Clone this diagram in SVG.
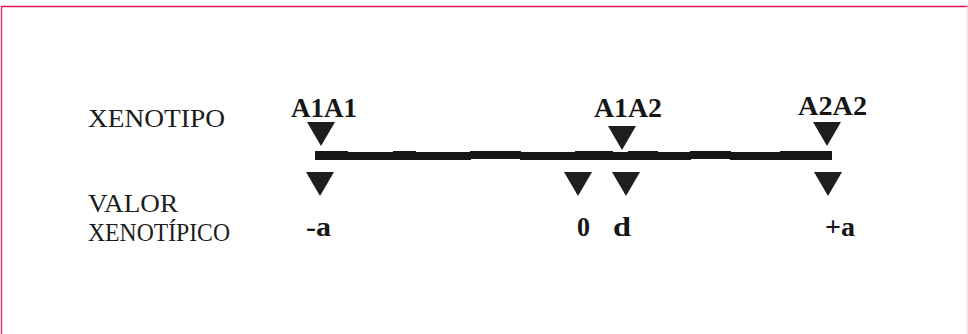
<svg xmlns="http://www.w3.org/2000/svg" width="968" height="334" viewBox="0 0 968 334">
  <style>
    .lbl { font-family: "Liberation Serif", "DejaVu Serif", serif; font-size: 26px; fill: #1c1c1c; }
    .gen { font-family: "Liberation Serif", "DejaVu Serif", serif; font-size: 27px; font-weight: bold; fill: #161616; }
    .val { font-family: "Liberation Serif", "DejaVu Serif", serif; font-size: 27px; font-weight: bold; fill: #161616; }
    .tri { fill: #1e1e1e; }
    .seg { fill: #161616; }
  </style>
  <defs>
    <!-- downward pointing marker triangle, origin at its apex centre-top -->
    <polygon id="down" points="-14,0 14,0 0,24"/>
  </defs>

  <rect x="0" y="0" width="968" height="334" fill="#ffffff"/>
  <!-- frame -->
  <line x1="1" y1="6.5" x2="968" y2="6.5" stroke="#e2124f" stroke-width="1.6"/>
  <line x1="1.5" y1="6" x2="1.5" y2="334" stroke="#d8336a" stroke-width="1.4"/>
  <line x1="967" y1="6" x2="967" y2="334" stroke="#f3cfdc" stroke-width="1"/>

  <!-- row labels -->
  <g id="label-xenotipo">
    <text class="lbl" x="88" y="127" textLength="137" lengthAdjust="spacingAndGlyphs">XENOTIPO</text>
  </g>
  <g id="label-valor">
    <text class="lbl" x="88" y="212" textLength="90" lengthAdjust="spacingAndGlyphs">VALOR</text>
    <text class="lbl" x="88" y="241" font-size="25" textLength="142" lengthAdjust="spacingAndGlyphs">XENOTÍPICO</text>
  </g>

  <!-- scale bar drawn as slightly offset strokes -->
  <g id="connectors">
    <rect class="seg" x="315" y="151" width="33" height="9"/>
    <rect class="seg" x="347" y="152" width="47" height="8"/>
    <rect class="seg" x="393" y="151" width="23" height="9"/>
    <rect class="seg" x="415" y="152" width="56" height="8"/>
    <rect class="seg" x="470" y="151" width="51" height="8"/>
    <rect class="seg" x="520" y="152" width="56" height="8"/>
    <rect class="seg" x="575" y="151" width="38" height="9"/>
    <rect class="seg" x="612" y="152" width="17" height="8"/>
    <rect class="seg" x="628" y="151" width="30" height="9"/>
    <rect class="seg" x="657" y="152" width="34" height="8"/>
    <rect class="seg" x="690" y="151" width="41" height="8"/>
    <rect class="seg" x="730" y="152" width="51" height="8"/>
    <rect class="seg" x="780" y="151" width="52" height="9"/>
  </g>

  <!-- genotypes -->
  <g id="node-a1a1">
    <text class="gen" x="291" y="117" textLength="66" lengthAdjust="spacingAndGlyphs">A1A1</text>
    <use href="#down" class="tri" x="321" y="122"/>
  </g>
  <g id="node-a1a2">
    <text class="gen" x="594" y="117" textLength="68" lengthAdjust="spacingAndGlyphs">A1A2</text>
    <use href="#down" class="tri" x="622" y="126"/>
  </g>
  <g id="node-a2a2">
    <text class="gen" x="798" y="115" textLength="69" lengthAdjust="spacingAndGlyphs">A2A2</text>
    <use href="#down" class="tri" x="827" y="122"/>
  </g>

  <!-- genotypic values -->
  <g id="value-minus-a">
    <use href="#down" class="tri" x="320" y="172"/>
    <text class="val" x="306" y="236" textLength="25" lengthAdjust="spacingAndGlyphs">-a</text>
  </g>
  <g id="value-zero">
    <use href="#down" class="tri" x="578" y="172"/>
    <text class="val" x="577" y="236" textLength="13" lengthAdjust="spacingAndGlyphs">0</text>
  </g>
  <g id="value-d">
    <use href="#down" class="tri" x="626" y="172"/>
    <text class="val" x="613" y="236" textLength="18" lengthAdjust="spacingAndGlyphs">d</text>
  </g>
  <g id="value-plus-a">
    <use href="#down" class="tri" x="828" y="172"/>
    <text class="val" x="825" y="236" textLength="30" lengthAdjust="spacingAndGlyphs">+a</text>
  </g>
</svg>
